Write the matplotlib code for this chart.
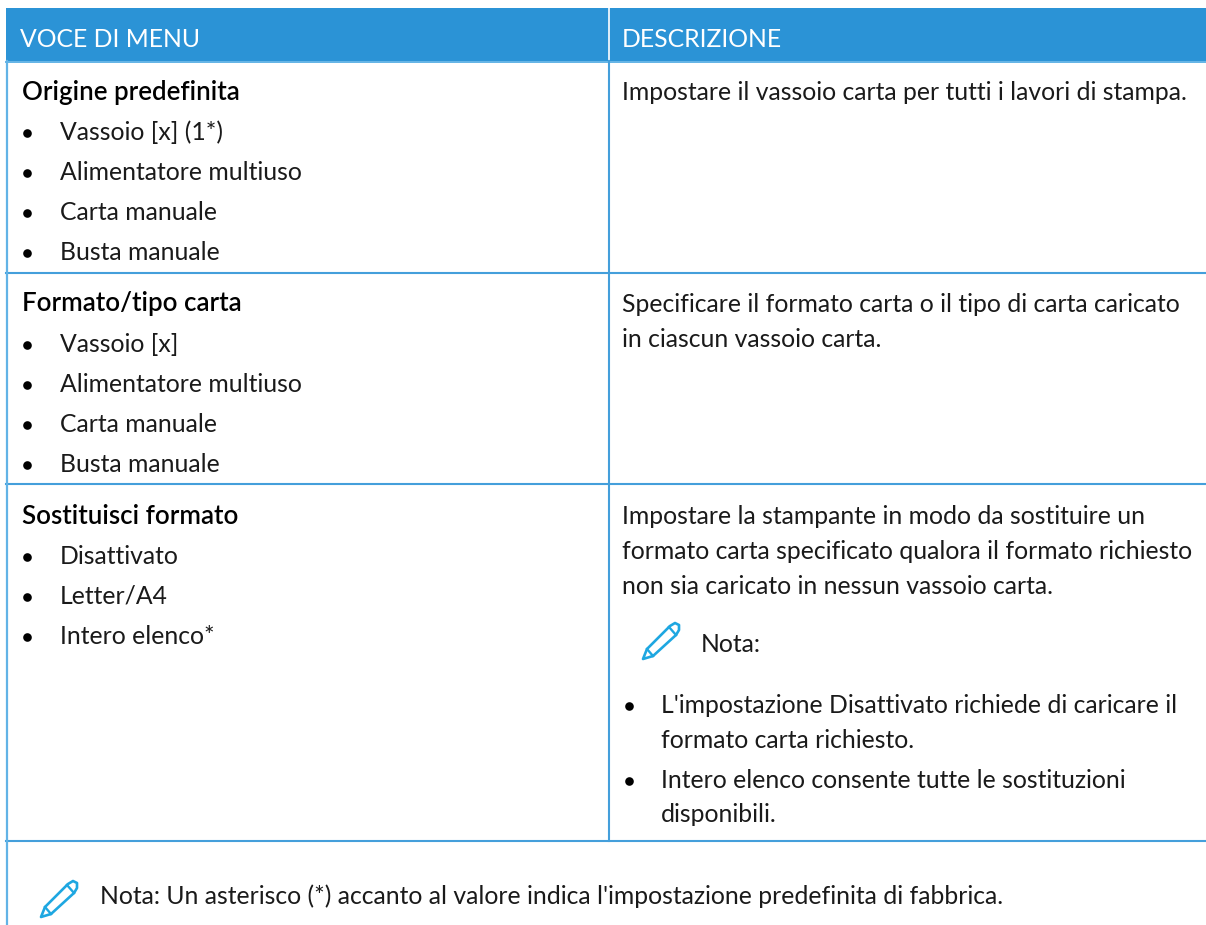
import matplotlib
matplotlib.use("Agg")
import matplotlib.pyplot as plt
from matplotlib.patches import Rectangle, Polygon

W, H = 1206, 925
BLUE = "#2b93d6"
LINE = "#449fdb"
EDGE = "#62b3e6"
ICON = "#1ea7e1"
INK = "#1a1a1a"
FONT = "Lato"
FS = 17.85
COL = 609

headers = ["VOCE DI MENU", "DESCRIZIONE"]
row_titles = ["Origine predefinita", "Formato/tipo carta", "Sostituisci formato"]
row_items = [
    ["Vassoio [x] (1*)", "Alimentatore multiuso", "Carta manuale", "Busta manuale"],
    ["Vassoio [x]", "Alimentatore multiuso", "Carta manuale", "Busta manuale"],
    ["Disattivato", "Letter/A4", "Intero elenco*"],
]
row_desc = [
    ["Impostare il vassoio carta per tutti i lavori di stampa."],
    ["Specificare il formato carta o il tipo di carta caricato",
     "in ciascun vassoio carta."],
    ["Impostare la stampante in modo da sostituire un",
     "formato carta specificato qualora il formato richiesto",
     "non sia caricato in nessun vassoio carta."],
]
note_label = "Nota:"
note_bullets = [
    ["L'impostazione Disattivato richiede di caricare il", "formato carta richiesto."],
    ["Intero elenco consente tutte le sostituzioni", "disponibili."],
]
footer = "Nota: Un asterisco (*) accanto al valore indica l'impostazione predefinita di fabbrica."

fig = plt.figure(figsize=(W / 100, H / 100), dpi=100)
ax = fig.add_axes([0, 0, 1, 1])
ax.set_xlim(0, W)
ax.set_ylim(H, 0)
ax.axis("off")


def txt(x, y, s, **kw):
    kw.setdefault("color", INK)
    kw.setdefault("fontsize", FS)
    kw.setdefault("family", FONT)
    ax.text(x, y, s, va="baseline", ha="left", **kw)


def dot(x, y):
    ax.plot([x], [y], marker="o", ms=6.2, color="black", mew=0)


def pencil(x, y):
    pts = [(1, 37), (5, 27), (28, 4), (33, 1), (37, 3), (37, 8), (34, 13), (11, 34)]
    ax.add_patch(Polygon([(x + a, y + b) for a, b in pts], closed=True,
                         fill=False, edgecolor=ICON, linewidth=1.9, joinstyle="round"))
    ax.plot([x + 5, x + 11], [y + 27, y + 34], color=ICON, lw=1.7)
    ax.plot([x + 27, x + 34], [y + 5, y + 13], color=ICON, lw=1.7)


ax.add_patch(Rectangle((6, 8), W - 6, 53, facecolor=BLUE, edgecolor="none"))
ax.plot([COL, COL], [8, 61], color="white", lw=1.2)
txt(20.5, 47, headers[0], color="white")
txt(622, 47, headers[1], color="white")

ax.plot([6, W], [61.5, 61.5], color=EDGE, lw=1.4)
for y in [273, 484, 841]:
    ax.plot([6, W], [y, y], color=LINE, lw=1.5)
ax.plot([7, 7], [61, H], color=EDGE, lw=1.6)
ax.plot([COL, COL], [61, 841], color=LINE, lw=1.5)

baseline = [100, 311.5, 523.5]
for base, title, items, desc in zip(baseline, row_titles, row_items, row_desc):
    txt(21.5, base, title, fontweight="semibold", fontsize=18.6, color="black")
    for i, item in enumerate(items):
        y = base + 40 * (i + 1)
        dot(27, y - 7)
        txt(60, y, item)
    for i, line in enumerate(desc):
        txt(622, base + 0.5 + 35 * i, line)

pencil(642, 622)
txt(701, 652, note_label)
ys = [713, 748, 788, 822]
k = 0
for bullet in note_bullets:
    dot(629, ys[k] - 7)
    for line in bullet:
        txt(661, ys[k], line)
        k += 1

pencil(40, 880)
txt(100, 903.5, footer)

fig.savefig("out.png", dpi=100)
